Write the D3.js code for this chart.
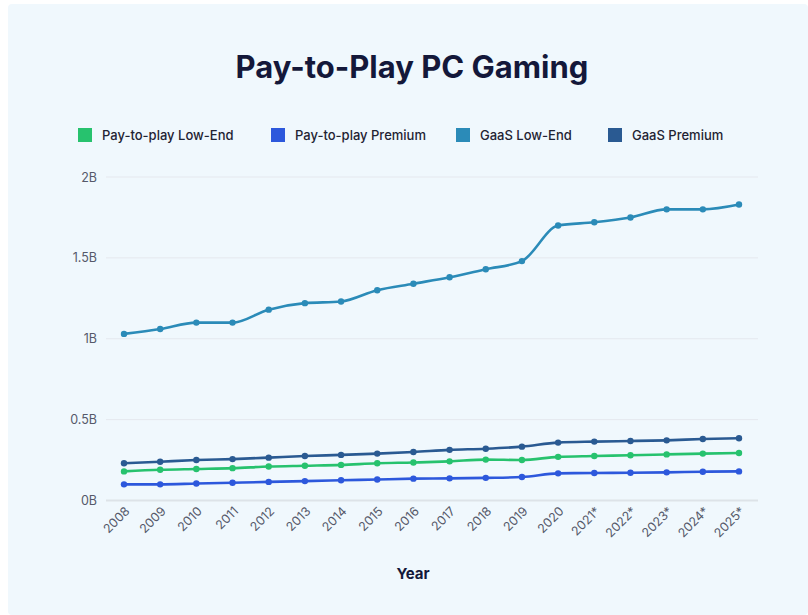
<!DOCTYPE html>
<html>
<head>
<meta charset="utf-8">
<script src="https://cdn.jsdelivr.net/npm/d3@7/dist/d3.min.js"></script>
<style>
  html, body { margin: 0; padding: 0; background: #ffffff; }
  svg { display: block; font-family: Inter, "Noto Sans", sans-serif; }
</style>
</head>
<body>
<svg id="chart" width="808" height="615"></svg>
<script>
// Years on the x axis (asterisk marks projected values)
const years = ["2008","2009","2010","2011","2012","2013","2014","2015","2016",
               "2017","2018","2019","2020","2021*","2022*","2023*","2024*","2025*"];

// Player counts, in billions
const payToPlayLowEnd  = [0.18,0.19,0.195,0.20,0.21,0.215,0.22,0.23,0.235,0.242,0.253,0.25,0.27,0.275,0.28,0.285,0.29,0.294];
const payToPlayPremium = [0.10,0.10,0.105,0.11,0.115,0.12,0.125,0.13,0.135,0.137,0.14,0.145,0.168,0.17,0.172,0.174,0.178,0.18];
const gaasLowEnd       = [1.03,1.06,1.10,1.10,1.18,1.22,1.23,1.30,1.34,1.38,1.43,1.48,1.70,1.72,1.75,1.80,1.80,1.83];
const gaasPremium      = [0.23,0.24,0.25,0.256,0.265,0.275,0.282,0.29,0.30,0.313,0.32,0.333,0.358,0.364,0.368,0.372,0.38,0.385];

const yTicks = [0, 0.5, 1, 1.5, 2];
const yTickLabels = ["0B", "0.5B", "1B", "1.5B", "2B"];

const series = [
  { name: "Pay-to-play Low-End", values: payToPlayLowEnd,  color: "#27c26e" },
  { name: "Pay-to-play Premium", values: payToPlayPremium, color: "#2d58dc" },
  { name: "GaaS Low-End",        values: gaasLowEnd,       color: "#2b8bb8" },
  { name: "GaaS Premium",        values: gaasPremium,      color: "#2a5a92" }
];

const svg = d3.select("#chart");

// Panel background
svg.append("rect")
  .attr("x", 8).attr("y", 4)
  .attr("width", 800).attr("height", 611)
  .attr("rx", 4)
  .attr("fill", "#f0f8fd");

// Title
svg.append("text")
  .attr("x", 412).attr("y", 78)
  .attr("text-anchor", "middle")
  .attr("font-size", 31)
  .attr("font-weight", 700)
  .attr("fill", "#14183a")
  .text("Pay-to-Play PC Gaming");

// Legend
const legendX = [78, 271, 456, 608];
const legend = svg.append("g");
series.forEach((s, i) => {
  const g = legend.append("g").attr("transform", `translate(${legendX[i]},128)`);
  g.append("rect").attr("width", 14).attr("height", 14).attr("fill", s.color);
  g.append("text")
    .attr("x", 24).attr("y", 11.5)
    .attr("font-size", 13)
    .attr("font-weight", 500)
    .attr("fill", "#1f2333")
    .text(s.name);
});

// Scales
const x = d3.scalePoint().domain(years).range([124, 739]);
const y = d3.scaleLinear().domain([0, 2]).range([500.5, 177]);

// Grid lines
const grid = svg.append("g");
yTicks.forEach((t, i) => {
  grid.append("line")
    .attr("x1", 106).attr("x2", 758)
    .attr("y1", y(t)).attr("y2", y(t))
    .attr("stroke", t === 0 ? "#dde3e8" : "#e5e8ee")
    .attr("stroke-width", t === 0 ? 2 : 1);
});

// Y axis labels
const yAxis = svg.append("g")
  .attr("transform", "translate(97,0)")
  .call(d3.axisLeft(y).tickValues(yTicks).tickSize(0).tickPadding(0)
    .tickFormat((d, i) => yTickLabels[i]));
yAxis.select(".domain").remove();
yAxis.selectAll("text")
  .attr("font-size", 12.5)
  .attr("fill", "#55596a")
  .attr("font-family", "Inter, sans-serif");

// X axis labels, rotated
const xAxis = svg.append("g")
  .attr("transform", "translate(0,506)")
  .call(d3.axisBottom(x).tickSize(0).tickPadding(0));
xAxis.select(".domain").remove();
xAxis.selectAll("text")
  .attr("font-size", 12.5)
  .attr("fill", "#55596a")
  .attr("font-family", "Inter, sans-serif")
  .attr("text-anchor", "end")
  .attr("dy", 0)
  .attr("transform", "translate(6,6) rotate(-45)");

// X axis title
svg.append("text")
  .attr("x", 413).attr("y", 579)
  .attr("text-anchor", "middle")
  .attr("font-size", 15)
  .attr("font-weight", 700)
  .attr("fill", "#14183a")
  .text("Year");

// Lines and points
const line = d3.line()
  .x((d, i) => x(years[i]))
  .y(d => y(d))
  .curve(d3.curveMonotoneX);

const plot = svg.append("g");
series.forEach(s => {
  plot.append("path")
    .datum(s.values)
    .attr("fill", "none")
    .attr("stroke", s.color)
    .attr("stroke-width", 2.6)
    .attr("stroke-linejoin", "round")
    .attr("d", line);
  plot.selectAll(null)
    .data(s.values)
    .join("circle")
    .attr("cx", (d, i) => x(years[i]))
    .attr("cy", d => y(d))
    .attr("r", 3.2)
    .attr("fill", s.color);
});
</script>
</body>
</html>
